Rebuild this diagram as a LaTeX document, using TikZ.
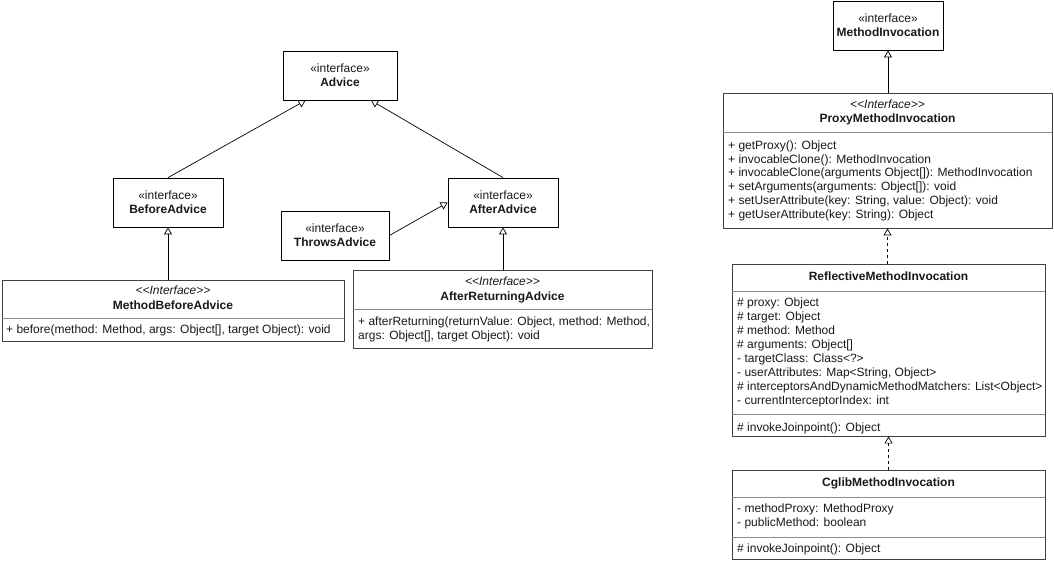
\documentclass[tikz,border=0pt]{standalone}
\usepackage{fontspec}
\setmainfont{Liberation Sans}
\usetikzlibrary{arrows.meta,fit,calc}
\newcommand{\stereo}{\textit{\mbox{<}\mbox{<}Interface\mbox{>}\mbox{>}}}
\begin{document}
\begin{tikzpicture}[x=1pt,y=-1pt,
  ibox/.style={draw=black, line width=0.8pt, inner sep=0pt},
  cbox/.style={draw=black!75, line width=0.9pt, inner sep=0pt},
  sep/.style={draw=black!45, line width=0.8pt},
  txt/.style={inner sep=0pt, text height=9pt, text depth=2.5pt, font=\fontsize{12}{13.5}\selectfont, text=black!90},
  ltxt/.style={txt, anchor=west},
  gen/.style={draw=black, line width=0.7pt, -{Triangle[open,length=7pt,width=8pt]}},
  real/.style={gen, dash pattern=on 3pt off 3pt}]
\useasboundingbox (0,0) rectangle (1054,561);
\fill[white] (0,0) rectangle (1054,561);

% ---------- left part ----------
\node[ibox, fit={(283,51)(397,100)}] (adv) {};
\node[txt] (advs) at (adv.center |- 0,69) {«interface»};
\node[txt] (advn) at (adv.center |- 0,83) {\textbf{Advice}};

\node[ibox, fit={(113,178)(223,227)}] (ba) {};
\node[txt] (bas) at (ba.center |- 0,196) {«interface»};
\node[txt] (ban) at (ba.center |- 0,210) {\textbf{BeforeAdvice}};

\node[ibox, fit={(448,178)(558,227)}] (aa) {};
\node[txt] (aas) at (aa.center |- 0,196) {«interface»};
\node[txt] (aan) at (aa.center |- 0,210) {\textbf{AfterAdvice}};

\node[ibox, fit={(281,211)(389,260)}] (ta) {};
\node[txt] (tas) at (ta.center |- 0,229) {«interface»};
\node[txt] (tan) at (ta.center |- 0,243) {\textbf{ThrowsAdvice}};

\node[cbox, fit={(2,280)(344,341)}] (mba) {};
\node[txt] (mbas) at (mba.center |- 0,291) {\stereo};
\node[txt] (mban) at (mba.center |- 0,306) {\textbf{MethodBeforeAdvice}};
\draw[sep] (mba.west |- 0,318) -- (mba.east |- 0,318);
\node[ltxt] (mbam) at (6,330) {+ before(method: Method, args: Object[], target Object): void};

\node[cbox, fit={(353,270)(652,348)}] (ara) {};
\node[txt] (aras) at (ara.center |- 0,282) {\stereo};
\node[txt] (aran) at (ara.center |- 0,297) {\textbf{AfterReturningAdvice}};
\draw[sep] (ara.west |- 0,309) -- (ara.east |- 0,309);
\node[ltxt] (aram1) at (358,322) {+ afterReturning(returnValue: Object, method: Method,};
\node[ltxt] (aram2) at (358,336) {args: Object[], target Object): void};

% ---------- right part ----------
\node[ibox, fit={(833,1)(943,50)}] (mi) {};
\node[txt] (mis) at (mi.center |- 0,19) {«interface»};
\node[txt] (min) at (mi.center |- 0,33) {\textbf{MethodInvocation}};

\node[cbox, fit={(723,93)(1052,228)}] (pmi) {};
\node[txt] (pmis) at (pmi.center |- 0,105) {\stereo};
\node[txt] (pmin) at (pmi.center |- 0,119) {\textbf{ProxyMethodInvocation}};
\draw[sep] (pmi.west |- 0,132) -- (pmi.east |- 0,132);
\node[ltxt] (pm1) at (728,146) {+ getProxy(): Object};
\node[ltxt] (pm2) at (728,160) {+ invocableClone(): MethodInvocation};
\node[ltxt] (pm3) at (728,173) {+ invocableClone(arguments Object[]): MethodInvocation};
\node[ltxt] (pm4) at (728,187) {+ setArguments(arguments: Object[]): void};
\node[ltxt] (pm5) at (728,201) {+ setUserAttribute(key: String, value: Object): void};
\node[ltxt] (pm6) at (728,215) {+ getUserAttribute(key: String): Object};

\node[cbox, fit={(732,264)(1045,436)}] (rmi) {};
\node[txt] (rmin) at (rmi.center |- 0,277) {\textbf{ReflectiveMethodInvocation}};
\draw[sep] (rmi.west |- 0,291) -- (rmi.east |- 0,291);
\node[ltxt] (rf1) at (737,303) {\# proxy: Object};
\node[ltxt] (rf2) at (737,317) {\# target: Object};
\node[ltxt] (rf3) at (737,331) {\# method: Method};
\node[ltxt] (rf4) at (737,345) {\# arguments: Object[]};
\node[ltxt] (rf5) at (737,359) {- targetClass: Class<?>};
\node[ltxt] (rf6) at (737,373) {- userAttributes: Map<String, Object>};
\node[ltxt] (rf7) at (737,387) {\# interceptorsAndDynamicMethodMatchers: List<Object>};
\node[ltxt] (rf8) at (737,401) {- currentInterceptorIndex: int};
\draw[sep] (rmi.west |- 0,414) -- (rmi.east |- 0,414);
\node[ltxt] (rm1) at (737,428) {\# invokeJoinpoint(): Object};

\node[cbox, fit={(732,470)(1045,559)}] (cmi) {};
\node[txt] (cmin) at (cmi.center |- 0,483) {\textbf{CglibMethodInvocation}};
\draw[sep] (cmi.west |- 0,497) -- (cmi.east |- 0,497);
\node[ltxt] (cf1) at (737,509) {- methodProxy: MethodProxy};
\node[ltxt] (cf2) at (737,523) {- publicMethod: boolean};
\draw[sep] (cmi.west |- 0,537) -- (cmi.east |- 0,537);
\node[ltxt] (cm1) at (737,549) {\# invokeJoinpoint(): Object};

% ---------- connectors ----------
\draw[gen] (ba.north) -- ($(adv.south west)!0.2!(adv.south east)$);
\draw[gen] (aa.north) -- ($(adv.south west)!0.77!(adv.south east)$);
\draw[gen] (ta.east) -- (aa.west);
\draw[gen] (mba.north -| ba.south) -- (ba.south);
\draw[gen] (ara.north -| aa.south) -- (aa.south);
\draw[gen] (pmi.north -| mi.south) -- (mi.south);
\draw[real] (rmi.north -| pmi.south) -- (pmi.south);
\draw[real] (cmi.north -| rmi.south) -- (rmi.south);
\end{tikzpicture}
\end{document}
